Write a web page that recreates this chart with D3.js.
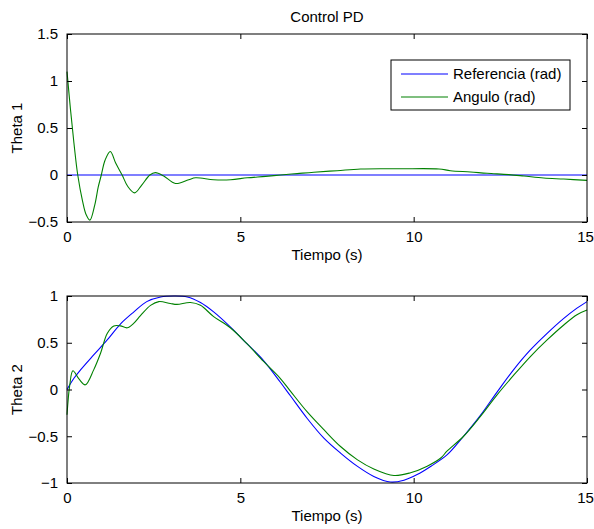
<!DOCTYPE html>
<head>
  <meta charset="utf-8">
  <script src="https://d3js.org/d3.v7.min.js"></script>
  <style>
    body { margin:0; background:#fff; }
    svg text { font-family: "Liberation Sans", Arial, sans-serif; font-size: 15px; fill:#000; }
  </style>
</head>
<body>
  <svg id="svgelem" width="594" height="529"></svg>
  <script>
    // --- datos ---
    var xTicks = [0, 5, 10, 15];
    var yTicks1 = [-0.5, 0, 0.5, 1, 1.5];
    var yTicks2 = [-1, -0.5, 0, 0.5, 1];
    var legendNames = ["Referencia (rad)", "Angulo (rad)"];

    // Theta 1
    var t1Ref = [0, 15];
    var theta1Ref = [0, 0];
    var t1Ang = [0, 0.1, 0.2, 0.31, 0.45, 0.55, 0.66, 0.8, 0.9, 0.99, 1.1, 1.25, 1.4, 1.59, 1.75, 1.95, 2.15, 2.39, 2.55,
                 2.79, 3.13, 3.51, 3.71, 4.23, 4.72, 5.2, 5.73, 6.16, 6.64, 7.12, 7.79, 8.47, 9.6, 10.73, 11.06, 11.64,
                 12.12, 12.74, 13.18, 13.75, 14.33, 15];
    var theta1Ang = [1.10, 0.70, 0.34, 0.0, -0.28, -0.42, -0.48, -0.32, -0.13, 0.0, 0.16, 0.25, 0.13, 0.0, -0.12, -0.19, -0.11, 0.0, 0.025,
                     -0.01, -0.09, -0.05, -0.03, -0.05, -0.05, -0.03, -0.015, 0.0, 0.015, 0.03, 0.046, 0.064, 0.066, 0.064, 0.046, 0.032,
                     0.018, 0.004, -0.011, -0.032, -0.043, -0.057];

    // Theta 2
    var t2Ref = [0, 0.2, 0.39, 0.77, 1.16, 1.54, 1.93, 2.3, 2.7, 3.1, 3.47, 3.85, 4.23, 4.71, 5.19, 5.67, 6.15, 6.45, 6.93,
                 7.41, 7.89, 8.37, 8.85, 9.33, 9.72, 10.1, 10.5, 10.96, 11.44, 11.92, 12.4, 12.88, 13.36, 13.85, 14.33, 14.71, 15];
    var theta2Ref = [0.0, 0.12, 0.21, 0.37, 0.53, 0.70, 0.83, 0.94, 0.99, 1.0, 0.99, 0.93, 0.83, 0.67, 0.49, 0.31, 0.08, -0.07, -0.31,
                     -0.52, -0.68, -0.82, -0.93, -0.99, -0.97, -0.91, -0.82, -0.70, -0.50, -0.28, -0.03, 0.21, 0.42, 0.60, 0.76, 0.87, 0.94];
    var t2Ang = [0, 0.08, 0.17, 0.35, 0.53, 0.77, 0.97, 1.16, 1.35, 1.54, 1.74, 1.93, 2.12, 2.41, 2.65, 2.98, 3.17, 3.56, 3.85,
                 4.23, 4.71, 5.19, 5.67, 6.15, 6.45, 6.93, 7.41, 7.89, 8.37, 8.85, 9.43, 9.91, 10.39, 10.79, 10.96, 11.44, 11.92,
                 12.4, 12.88, 13.36, 13.85, 14.33, 14.71, 15];
    var theta2Ang = [-0.27, 0.05, 0.20, 0.11, 0.05, 0.21, 0.39, 0.60, 0.68, 0.68, 0.66, 0.71, 0.79, 0.90, 0.94, 0.92, 0.91, 0.93, 0.90,
                     0.78, 0.66, 0.49, 0.30, 0.12, -0.02, -0.24, -0.43, -0.61, -0.75, -0.85, -0.92, -0.89, -0.82, -0.73, -0.66, -0.50, -0.29,
                     -0.06, 0.15, 0.35, 0.53, 0.69, 0.80, 0.85];

    var svg = d3.select("#svgelem");
    var left = 67, right = 587;
    var tickLen = 5;

    function zip(xs, ys) { return xs.map(function(x, i) { return [x, ys[i]]; }); }

    function drawPanel(top, bottom, ydom, yticks, ylabel, series) {
      var x = d3.scaleLinear().domain([0, 15]).range([left, right]);
      var y = d3.scaleLinear().domain(ydom).range([bottom, top]);
      var g = svg.append("g");

      g.append("rect").attr("x", left).attr("y", top)
        .attr("width", right - left).attr("height", bottom - top)
        .attr("fill", "#fff");

      var line = d3.line()
        .x(function(d) { return x(d[0]); })
        .y(function(d) { return y(d[1]); })
        .curve(d3.curveCatmullRom.alpha(0.5));

      series.forEach(function(s) {
        g.append("path").datum(s.data)
          .attr("fill", "none")
          .attr("stroke", s.color)
          .attr("stroke-width", 1.1)
          .attr("d", line);
      });

      // ejes con ticks hacia adentro (como matlab)
      var xb = d3.axisBottom(x).tickValues(xTicks).tickSizeInner(-tickLen).tickSizeOuter(0).tickPadding(9).tickFormat(d3.format("d"));
      var xt = d3.axisTop(x).tickValues(xTicks).tickSizeInner(-tickLen).tickSizeOuter(0).tickFormat("");
      var yl = d3.axisLeft(y).tickValues(yticks).tickSizeInner(-tickLen).tickSizeOuter(0).tickPadding(9).tickFormat(d3.format("~g"));
      var yr = d3.axisRight(y).tickValues(yticks).tickSizeInner(-tickLen).tickSizeOuter(0).tickFormat("");

      [[xb, "translate(0," + bottom + ")"], [xt, "translate(0," + top + ")"],
       [yl, "translate(" + left + ",0)"], [yr, "translate(" + right + ",0)"]].forEach(function(a) {
        var ax = g.append("g").attr("transform", a[1]).call(a[0]);
        ax.select(".domain").remove();
        ax.selectAll("line").attr("stroke", "#000");
        ax.selectAll("text").attr("font-size", null).attr("font-family", null).attr("fill", "#000");
      });
      // el "15" queda pegado al borde, se corre un poco
      g.selectAll(".tick text").filter(function(d) { return d === 15; }).attr("dx", "-2");

      g.append("rect").attr("x", left).attr("y", top)
        .attr("width", right - left).attr("height", bottom - top)
        .attr("fill", "none").attr("stroke", "#000").attr("stroke-width", 1);

      g.append("text")
        .attr("x", (left + right) / 2).attr("y", bottom + 38)
        .attr("text-anchor", "middle")
        .text("Tiempo (s)");

      g.append("text")
        .attr("transform", "translate(22," + ((top + bottom) / 2) + ") rotate(-90)")
        .attr("text-anchor", "middle")
        .text(ylabel);

      return g;
    }

    drawPanel(34, 222, [-0.5, 1.5], yTicks1, "Theta 1", [
      { data: zip(t1Ref, theta1Ref), color: "#0000ff" },
      { data: zip(t1Ang, theta1Ang), color: "#008000" }
    ]);

    drawPanel(296, 483, [-1, 1], yTicks2, "Theta 2", [
      { data: zip(t2Ref, theta2Ref), color: "#0000ff" },
      { data: zip(t2Ang, theta2Ang), color: "#008000" }
    ]);

    svg.append("text")
      .attr("x", (left + right) / 2).attr("y", 22)
      .attr("text-anchor", "middle")
      .text("Control PD");

    // leyenda
    var leg = svg.append("g").attr("transform", "translate(391,60)");
    leg.append("rect").attr("width", 179).attr("height", 50)
      .attr("fill", "#fff").attr("stroke", "#000");
    var legColors = ["#0000ff", "#008000"];
    legendNames.forEach(function(name, i) {
      var yy = 14 + i * 23;
      leg.append("line").attr("x1", 10).attr("x2", 57).attr("y1", yy).attr("y2", yy)
        .attr("stroke", legColors[i]).attr("stroke-width", 1.1);
      leg.append("text").attr("x", 62).attr("y", yy).attr("dy", "0.35em").text(name);
    });
  </script>
</body>
